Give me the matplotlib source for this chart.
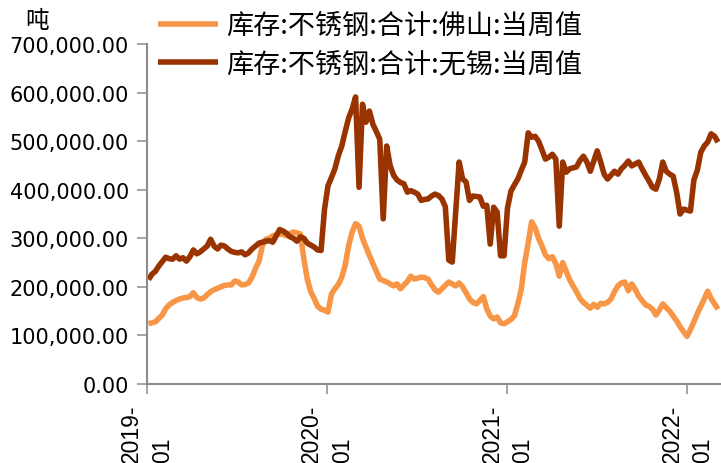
import matplotlib

matplotlib.use("Agg")
import matplotlib.pyplot as plt
import matplotlib.dates as mdates
import matplotlib.ticker as mticker
import pandas as pd

# 周度库存（吨），起始于 2019-01-04，每周五一个值
START_DATE = "2019-01-04"

foshan = [
    124000, 126000, 128000, 135000, 142000, 155000, 163000, 168000, 172000, 175000,
    177000, 178000, 180000, 188000, 178000, 175000, 177000, 184000, 190000, 194000,
    197000, 200000, 203000, 204000, 204000, 212000, 210000, 204000, 205000, 208000,
    220000, 238000, 252000, 285000, 298000, 300000, 305000, 307000, 309000, 308000,
    305000, 310000, 313000, 311000, 309000, 258000, 216000, 190000, 176000, 160000,
    154000, 152000, 148000, 185000, 196000, 205000, 220000, 245000, 285000, 313000,
    330000, 325000, 300000, 282000, 265000, 248000, 232000, 216000, 213000, 210000,
    206000, 202000, 206000, 196000, 204000, 211000, 222000, 216000, 218000, 220000,
    219000, 216000, 204000, 194000, 189000, 196000, 203000, 210000, 206000, 202000,
    208000, 200000, 188000, 175000, 168000, 165000, 172000, 180000, 155000, 140000,
    134000, 138000, 126000, 124000, 128000, 133000, 140000, 165000, 195000, 250000,
    290000, 334000, 322000, 300000, 284000, 266000, 258000, 262000, 248000, 222000,
    250000, 232000, 215000, 202000, 190000, 176000, 168000, 162000, 156000, 164000,
    158000, 166000, 165000, 168000, 175000, 190000, 202000, 208000, 210000, 192000,
    206000, 195000, 181000, 172000, 163000, 160000, 154000, 142000, 152000, 165000,
    157000, 150000, 140000, 130000, 118000, 108000, 98000, 112000, 128000, 145000,
    160000, 175000, 191000, 176000, 165000, 154000,
]

wuxi = [
    215000, 226000, 232000, 243000, 252000, 261000, 258000, 257000, 264000, 257000,
    260000, 253000, 262000, 276000, 268000, 272000, 278000, 284000, 298000, 284000,
    278000, 286000, 284000, 278000, 273000, 271000, 270000, 272000, 266000, 270000,
    278000, 284000, 290000, 292000, 294000, 295000, 292000, 305000, 318000, 315000,
    310000, 303000, 300000, 294000, 303000, 300000, 290000, 286000, 282000, 276000,
    275000, 360000, 408000, 425000, 443000, 470000, 490000, 520000, 548000, 566000,
    591000, 405000, 576000, 539000, 562000, 535000, 520000, 504000, 340000, 490000,
    450000, 430000, 420000, 415000, 412000, 395000, 398000, 395000, 391000, 378000,
    380000, 381000, 387000, 391000, 388000, 381000, 365000, 255000, 251000, 354000,
    457000, 422000, 416000, 378000, 387000, 386000, 385000, 366000, 368000, 288000,
    364000, 354000, 264000, 264000, 362000, 397000, 410000, 422000, 440000, 457000,
    517000, 508000, 510000, 500000, 482000, 463000, 467000, 473000, 463000, 325000,
    457000, 436000, 443000, 445000, 447000, 460000, 469000, 457000, 438000, 459000,
    480000, 457000, 432000, 422000, 430000, 438000, 432000, 443000, 450000, 459000,
    449000, 453000, 457000, 443000, 430000, 418000, 405000, 401000, 422000, 457000,
    438000, 432000, 428000, 395000, 350000, 360000, 358000, 356000, 420000, 440000,
    477000, 490000, 498000, 515000, 510000, 498000,
]

series_labels = ["库存:不锈钢:合计:佛山:当周值", "库存:不锈钢:合计:无锡:当周值"]
series_colors = ["#F79646", "#993300"]
year_ticks = ["2019-01-01", "2020-01-01", "2021-01-01", "2022-01-01"]
unit_label = "吨"

CJK_FONTS = ["Noto Sans CJK SC", "DejaVu Sans"]
AXIS_GREY = "#8C8C8C"


def main() -> None:
    dates = pd.date_range(START_DATE, periods=len(foshan), freq="7D")

    fig = plt.figure(figsize=(7.21, 4.64), dpi=100)
    ax = fig.add_axes([147 / 721, 79 / 464, 573 / 721, 340 / 464])

    for values, label, color in zip([foshan, wuxi], series_labels, series_colors):
        ax.plot(dates, values, color=color, linewidth=4.0, label=label,
                solid_joinstyle="round", solid_capstyle="butt")

    ax.set_ylim(0, 700000)
    ax.set_xlim(pd.Timestamp("2019-01-01"), pd.Timestamp("2022-03-08"))

    ax.yaxis.set_major_locator(mticker.MultipleLocator(100000))
    ax.yaxis.set_major_formatter(mticker.FuncFormatter(lambda v, _: f"{v:,.2f}"))
    ax.tick_params(axis="y", length=7, width=1.1, color=AXIS_GREY, pad=6,
                   labelsize=15, labelcolor="black")
    for lbl in ax.get_yticklabels():
        lbl.set_family("DejaVu Sans")

    ax.set_xticks([pd.Timestamp(d) for d in year_ticks])
    ax.xaxis.set_major_formatter(mdates.DateFormatter("%Y-\n%m"))
    ax.tick_params(axis="x", length=7, width=1.1, color=AXIS_GREY, pad=7,
                   labelsize=16.5, labelcolor="black")
    for lbl in ax.get_xticklabels():
        lbl.set_family("Liberation Sans")
        lbl.set_rotation(90)
        lbl.set_multialignment("left")
        lbl.set_linespacing(1.45)
        lbl.set_verticalalignment("top")

    for side in ["top", "right"]:
        ax.spines[side].set_visible(False)
    for side in ["left", "bottom"]:
        ax.spines[side].set_color(AXIS_GREY)
        ax.spines[side].set_linewidth(1.5)

    fig.text(25 / 721, 1 - 21 / 464, unit_label, fontsize=17, family=CJK_FONTS,
             ha="left", va="center")

    fig.legend(loc="upper left", bbox_to_anchor=(158 / 721, 1 - 13 / 464),
               frameon=False, prop={"family": CJK_FONTS, "size": 19.5},
               handlelength=2.2, handletextpad=0.3, labelspacing=0.42,
               borderpad=0, borderaxespad=0)

    fig.savefig("out.png", dpi=100)
    plt.close(fig)


if __name__ == "__main__":
    main()
